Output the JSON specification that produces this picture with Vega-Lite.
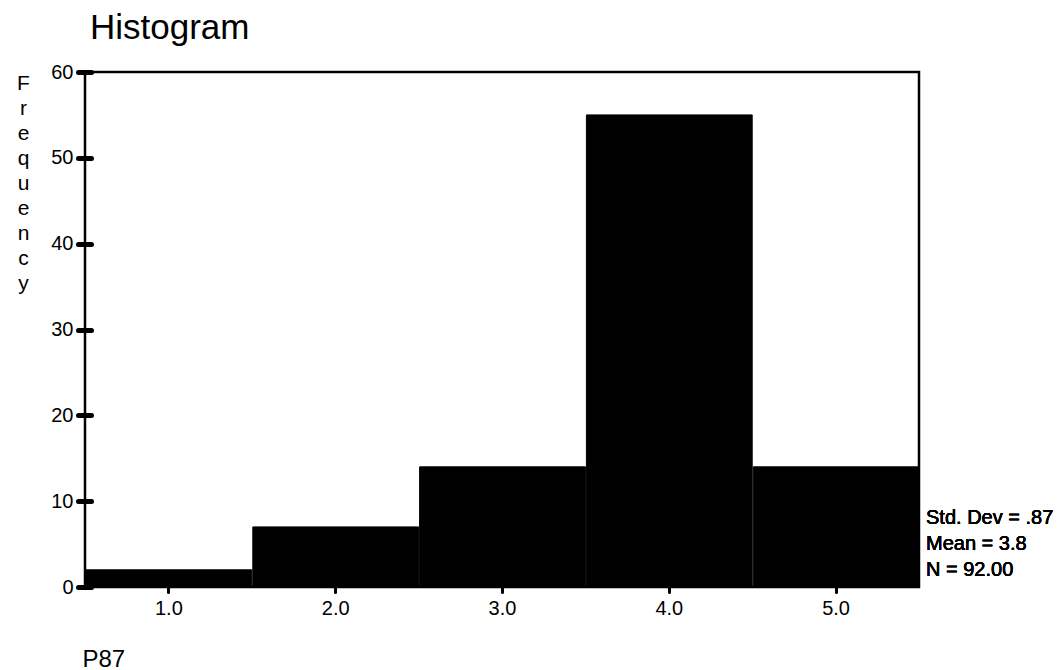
{
  "$schema": "https://vega.github.io/schema/vega-lite/v6.json",
  "autosize": {"type": "none"},
  "padding": {"left": 85, "top": 72, "right": 145, "bottom": 83},
  "width": 834,
  "height": 515,
  "background": "white",
  "title": {
    "text": "Histogram",
    "anchor": "start",
    "frame": "group",
    "dx": 5,
    "offset": -12,
    "baseline": "alphabetic",
    "font": "Liberation Sans",
    "fontSize": 35,
    "fontWeight": "normal",
    "color": "black"
  },
  "config": {
    "view": {"stroke": "black", "strokeWidth": 2.5},
    "font": "Liberation Sans"
  },
  "data": {
    "values": [
      {"p87_start": 0.5, "p87_end": 1.5, "frequency": 2},
      {"p87_start": 1.5, "p87_end": 2.5, "frequency": 7},
      {"p87_start": 2.5, "p87_end": 3.5, "frequency": 14},
      {"p87_start": 3.5, "p87_end": 4.5, "frequency": 55},
      {"p87_start": 4.5, "p87_end": 5.5, "frequency": 14}
    ]
  },
  "layer": [
    {
      "mark": {"type": "bar", "fill": "black", "stroke": "black", "strokeWidth": 1},
      "encoding": {
        "x": {
          "field": "p87_start",
          "type": "quantitative",
          "bin": "binned",
          "scale": {"domain": [0.5, 5.5], "nice": false, "zero": false},
          "axis": {
            "title": "P87",
            "titleX": -3,
            "titleY": 79,
            "titleAlign": "left",
            "titleBaseline": "alphabetic",
            "titleFontSize": 24,
            "titleFontWeight": "normal",
            "titleColor": "black",
            "values": [1, 2, 3, 4, 5],
            "format": ".1f",
            "domain": false,
            "grid": false,
            "ticks": true,
            "tickSize": 5,
            "tickWidth": 3,
            "tickColor": "black",
            "tickCap": "round",
            "labelFontSize": 20,
            "labelColor": "black",
            "labelPadding": 6,
            "labelFlush": false
          }
        },
        "x2": {"field": "p87_end"},
        "y": {
          "field": "frequency",
          "type": "quantitative",
          "scale": {"domain": [0, 60], "nice": false},
          "axis": {
            "title": ["F", "r", "e", "q", "u", "e", "n", "c", "y"],
            "titleAngle": 0,
            "titleX": -68,
            "titleY": 0,
            "titleAlign": "center",
            "titleBaseline": "top",
            "titleLineHeight": 25,
            "titleFontSize": 21,
            "titleFontWeight": "normal",
            "titleColor": "black",
            "values": [0, 10, 20, 30, 40, 50, 60],
            "offset": -6,
            "domain": false,
            "grid": false,
            "tickSize": 13,
            "tickWidth": 5,
            "tickCap": "round",
            "tickColor": "black",
            "labelFontSize": 20,
            "labelColor": "black",
            "labelPadding": 5,
            "labelFlush": false
          }
        }
      }
    },
    {
      "mark": {
        "type": "text",
        "align": "left",
        "baseline": "middle",
        "dx": 7,
        "fontSize": 20,
        "fontWeight": "normal",
        "lineHeight": 26,
        "fill": "black",
        "font": "Liberation Sans"
      },
      "encoding": {
        "x": {"datum": 5.5, "type": "quantitative"},
        "y": {"datum": 8.0, "type": "quantitative"},
        "text": {"value": ["Std. Dev = .87", "Mean = 3.8", "N = 92.00"]}
      }
    }
  ]
}
